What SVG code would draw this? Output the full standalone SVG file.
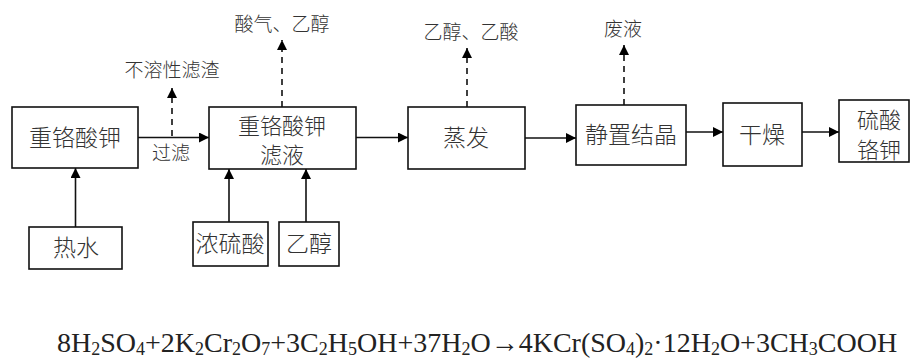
<svg xmlns="http://www.w3.org/2000/svg" width="910" height="360" viewBox="0 0 910 360">
<style>
.box{fill:#fff;stroke:#111;stroke-width:1.6}
.t{font-family:"Noto Sans CJK SC",sans-serif;font-size:23px;font-weight:300;fill:#333;text-anchor:middle}
.t2{font-family:"Noto Sans CJK SC",sans-serif;font-size:22px;font-weight:300;fill:#333;text-anchor:middle}
.s{font-family:"Noto Sans CJK SC",sans-serif;font-size:19px;font-weight:300;fill:#333;text-anchor:middle}
.ln{stroke:#111;stroke-width:1.6;fill:none}
.dash{stroke:#111;stroke-width:1.6;fill:none;stroke-dasharray:6,5}
.eq{font-family:"Liberation Serif",serif;font-size:28px;fill:#222}
.sb{font-size:18px}
</style>
<defs>
<marker id="ah" viewBox="0 0 10 10" refX="10" refY="5" markerWidth="10" markerHeight="10" markerUnits="userSpaceOnUse" orient="auto">
<path d="M0,0 L10,5 L0,10 z" fill="#000"/>
</marker>
</defs>
<g id="connectors">
<line class="ln" x1="138" y1="137.5" x2="209" y2="137.5" marker-end="url(#ah)"/>
<line class="ln" x1="356" y1="137.5" x2="408" y2="137.5" marker-end="url(#ah)"/>
<line class="ln" x1="525" y1="138" x2="576" y2="138" marker-end="url(#ah)"/>
<line class="ln" x1="686" y1="132" x2="723" y2="132" marker-end="url(#ah)"/>
<line class="ln" x1="802" y1="132" x2="839" y2="132" marker-end="url(#ah)"/>
<line class="dash" x1="172" y1="136" x2="172" y2="88" marker-end="url(#ah)"/>
<line class="dash" x1="282" y1="107" x2="282" y2="40" marker-end="url(#ah)"/>
<line class="dash" x1="467" y1="107" x2="467" y2="48" marker-end="url(#ah)"/>
<line class="dash" x1="624" y1="105" x2="624" y2="45" marker-end="url(#ah)"/>
<line class="ln" x1="75.5" y1="227" x2="75.5" y2="168" marker-end="url(#ah)"/>
<line class="ln" x1="229" y1="222" x2="229" y2="169" marker-end="url(#ah)"/>
<line class="ln" x1="306" y1="222" x2="306" y2="169" marker-end="url(#ah)"/>
</g>
<g id="n1"><rect class="box" x="12" y="107" width="126" height="61"/><text class="t" x="75" y="146">重铬酸钾</text></g>
<g id="n2"><rect class="box" x="209" y="107" width="147" height="62"/><text class="t2" x="282" y="134">重铬酸钾</text><text class="t2" x="282" y="163">滤液</text></g>
<g id="n3"><rect class="box" x="408" y="107" width="117" height="62"/><text class="t" x="466" y="146">蒸发</text></g>
<g id="n4"><rect class="box" x="576" y="105" width="110" height="60"/><text class="t" x="631" y="143">静置结晶</text></g>
<g id="n5"><rect class="box" x="723" y="103" width="79" height="63"/><text class="t" x="762" y="143">干燥</text></g>
<g id="n6"><rect class="box" x="839" y="100" width="70" height="62"/><text class="t2" x="879" y="128">硫酸</text><text class="t2" x="879" y="158">铬钾</text></g>
<g id="n7"><rect class="box" x="29" y="227" width="93" height="42"/><text class="t" x="76" y="256">热水</text></g>
<g id="n8"><rect class="box" x="193" y="222" width="75" height="44"/><text class="t" x="230" y="252">浓硫酸</text></g>
<g id="n9"><rect class="box" x="279" y="222" width="60" height="44"/><text class="t" x="309" y="252">乙醇</text></g>
<g id="labels">
<text class="s" x="171" y="160">过滤</text>
<text class="s" x="172" y="77">不溶性滤渣</text>
<text class="s" x="282" y="31">酸气、乙醇</text>
<text class="s" x="471" y="39">乙醇、乙酸</text>
<text class="s" x="623" y="36">废液</text>
</g>
<text class="eq" x="57" y="352">8H<tspan class="sb" dy="3">2</tspan><tspan dy="-3">SO</tspan><tspan class="sb" dy="3">4</tspan><tspan dy="-3">+2K</tspan><tspan class="sb" dy="3">2</tspan><tspan dy="-3">Cr</tspan><tspan class="sb" dy="3">2</tspan><tspan dy="-3">O</tspan><tspan class="sb" dy="3">7</tspan><tspan dy="-3">+3C</tspan><tspan class="sb" dy="3">2</tspan><tspan dy="-3">H</tspan><tspan class="sb" dy="3">5</tspan><tspan dy="-3">OH+37H</tspan><tspan class="sb" dy="3">2</tspan><tspan dy="-3">O→4KCr(SO</tspan><tspan class="sb" dy="3">4</tspan><tspan dy="-3">)</tspan><tspan class="sb" dy="3">2</tspan><tspan dy="-3">·12H</tspan><tspan class="sb" dy="3">2</tspan><tspan dy="-3">O+3CH</tspan><tspan class="sb" dy="3">3</tspan><tspan dy="-3">COOH</tspan></text>
</svg>
